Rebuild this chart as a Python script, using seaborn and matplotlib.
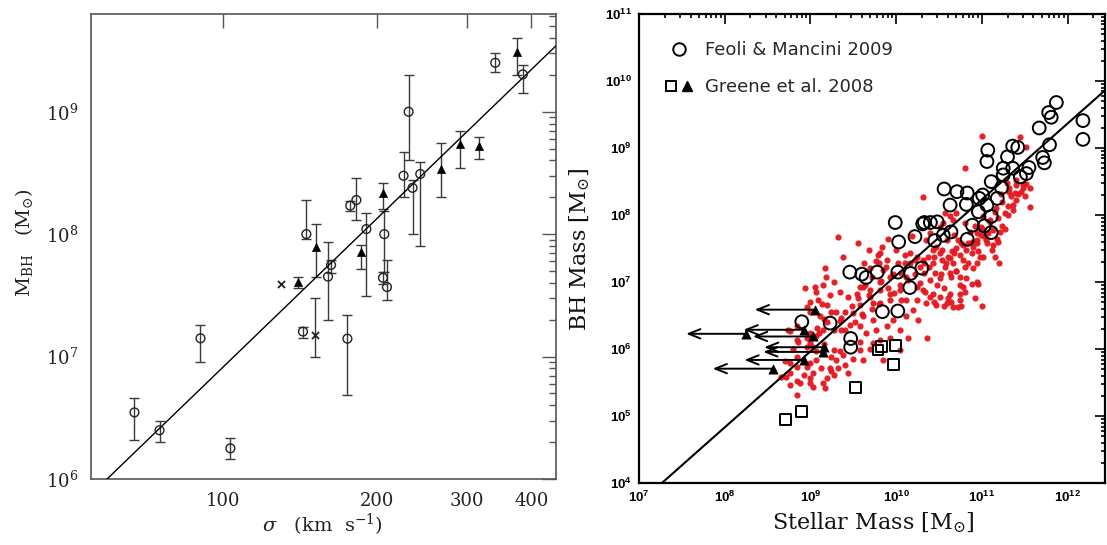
import numpy as np
import matplotlib
matplotlib.use("Agg")
import matplotlib.pyplot as plt
import seaborn as sns
from matplotlib.lines import Line2D
from matplotlib.legend_handler import HandlerTuple
from matplotlib.ticker import LogLocator, NullLocator, NullFormatter

# ---------------- Left panel: M_BH versus velocity dispersion ----------------
circ_sigma = [67.0, 75.0, 90.2, 103.2, 143.1, 145.3, 160.2, 162.4, 174.8, 177.1, 182.0,
              190.4, 205.2, 206.4, 208.9, 225.1, 230.3, 234.4, 242.7, 340.2, 385.2]
circ_mbh = [3.5e6, 2.5e6, 1.41e7, 1.78e6, 1.6e7, 1.0e8, 4.5e7, 5.6e7, 1.4e7, 1.71e8, 1.9e8,
            1.1e8, 4.4e7, 1.0e8, 3.7e7, 3.0e8, 1.0e9, 2.39e8, 3.1e8, 2.51e9, 2.02e9]
circ_lo = [2.1e6, 2.0e6, 9.0e6, 1.47e6, 1.42e7, 9.2e7, 2.0e7, 4.8e7, 4.9e6, 1.56e8, 1.3e8,
           3.1e7, 3.9e7, 4.9e7, 2.9e7, 2.0e8, 4.0e8, 1.0e8, 8.0e7, 2.1e9, 1.41e9]
circ_hi = [4.55e6, 3.0e6, 1.8e7, 2.15e6, 1.73e7, 1.9e8, 8.6e7, 6.2e7, 2.2e7, 1.86e8, 2.9e8,
           1.5e8, 4.95e7, 1.55e8, 6.1e7, 4.7e8, 2.0e9, 2.77e8, 3.9e8, 3.0e9, 2.4e9]

tri_sigma = [139.8, 152.0, 186.1, 205.2, 266.4, 290.5, 315.5, 375.0]
tri_mbh = [4.1e7, 7.9e7, 7.1e7, 2.15e8, 3.38e8, 5.42e8, 5.27e8, 3.05e9]
tri_lo = [3.6e7, 4.5e7, 5.2e7, 1.6e8, 2.0e8, 3.5e8, 4.1e8, 2.0e9]
tri_hi = [4.5e7, 1.2e8, 8.1e7, 2.6e8, 5.6e8, 7.0e8, 6.2e8, 4.0e9]

cross_sigma = [129.9, 150.8]
cross_mbh = [3.9e7, 1.5e7]
cross_lo = [np.nan, 1.0e7]
cross_hi = [np.nan, 3.0e7]

# log M = msig_zero + msig_slope * log(sigma / 200 km/s)
msig_zero = 8.13
msig_slope = 4.03

sigma_ticks = [100, 200, 300, 400]
mbh_ticks_left = [1e6, 1e7, 1e8, 1e9]

# ---------------- Right panel: M_BH versus stellar mass (log10 units) ----------------
fm_log_mstar = [8.90, 9.23, 9.47, 9.47, 9.46, 9.60, 9.65, 9.78, 9.84, 10.02, 10.02, 10.17,
                10.16, 10.30, 9.99, 10.03, 10.22, 10.31, 10.33, 10.40, 10.48, 10.45, 10.55,
                10.64, 10.56, 10.71, 10.83, 10.63, 10.82, 10.83, 10.89, 10.96, 10.97, 11.01,
                11.03, 11.06, 11.11, 11.11, 11.11, 11.18, 11.23, 11.25, 11.25, 11.07, 11.06,
                11.30, 11.36, 11.42, 11.36, 11.45, 11.52, 11.55, 11.71, 11.73, 11.79, 11.67,
                11.78, 11.81, 11.87, 12.18, 12.18]
fm_log_mbh = [6.41, 6.39, 6.16, 6.03, 7.15, 7.12, 7.07, 7.15, 6.56, 6.57, 7.15, 7.13,
              6.92, 7.21, 7.89, 7.60, 7.68, 7.87, 7.89, 7.89, 7.90, 7.62, 7.70,
              7.75, 8.39, 8.35, 8.33, 8.15, 8.16, 7.64, 7.85, 8.05, 8.25, 8.30,
              7.84, 8.15, 7.98, 7.74, 8.50, 8.25, 8.41, 8.60, 8.70, 8.97, 8.80,
              8.87, 9.03, 9.01, 8.70, 8.57, 8.62, 8.71, 8.86, 8.78, 9.05, 9.30,
              9.53, 9.46, 9.68, 9.41, 9.13]

gsq_log_mstar = [8.71, 8.90, 9.53, 9.79, 9.83, 9.99, 9.97]
gsq_log_mbh = [4.95, 5.07, 5.43, 5.99, 6.04, 6.06, 5.77]

glim_log_mstar = [9.05, 8.92, 8.25, 9.03, 9.16, 9.15, 8.93, 8.56]
glim_log_mbh = [6.59, 6.29, 6.23, 6.19, 6.03, 5.96, 5.84, 5.71]
limit_arrow_dex = 0.7

red_log_mstar = [
    11.00, 11.44, 11.52, 10.80, 10.31, 11.56, 11.52, 11.48, 11.39, 11.34,
    11.30, 11.27, 11.36, 11.56, 11.19, 11.21, 11.27, 11.13, 11.19, 11.20,
    11.15, 11.13, 11.05, 10.99, 10.94, 10.90, 10.96, 11.01, 10.94, 10.90,
    10.80, 10.78, 10.74, 10.82, 10.70, 10.65, 10.63, 10.66, 10.70, 10.63,
    10.57, 10.53, 10.51, 10.47, 10.59, 10.63, 10.66, 10.80, 10.68, 10.39,
    10.35, 10.43, 10.37, 10.31, 10.43, 10.45, 10.51, 10.39, 10.33, 10.28,
    10.22, 10.16, 10.10, 10.06, 10.14, 10.24, 10.31, 10.43, 10.51, 10.63,
    10.74, 10.78, 10.74, 10.82, 10.88, 10.94, 9.93, 9.85, 9.77, 9.89,
    9.81, 9.69, 9.61, 9.54, 9.69, 9.81, 9.93, 10.04, 10.12, 10.24,
    10.35, 10.47, 10.59, 10.66, 10.74, 9.81, 11.29, 11.32, 11.40, 11.46,
    11.50, 11.40, 11.23, 11.15, 11.09, 11.01, 10.99, 11.07, 10.94, 10.86,
    10.88, 10.78, 10.72, 10.55, 10.51, 10.57, 10.70,
    9.17, 9.38, 9.27, 9.15, 9.05, 9.07, 9.23, 9.34, 9.44, 9.58,
    9.69, 9.79, 9.96, 9.81, 9.93, 9.73, 9.58, 9.50, 9.61, 9.73,
    9.58, 9.65, 9.77, 9.89, 9.96, 10.04, 10.12, 10.14, 10.04, 9.93,
    9.81, 9.73, 9.58, 9.46, 9.36, 9.36, 9.30, 9.19, 9.09, 8.99,
    8.96, 9.11, 9.19, 9.15, 9.07, 8.96, 8.84, 8.74, 9.03, 9.27,
    9.38, 9.30, 9.23, 9.27, 9.19, 9.15, 9.17, 9.03, 8.99, 8.88,
    8.76, 8.84, 9.03, 8.96, 8.84, 8.76, 8.72, 8.84, 9.07, 9.44,
    9.40, 9.50, 9.61, 9.58, 9.69, 9.85,
    10.36, 10.26, 10.20, 10.72, 10.76, 10.60, 10.44, 10.96, 10.56, 9.32,
    9.18, 8.94, 8.66, 8.76, 8.70, 9.00, 9.24, 9.32, 8.84, 8.76,
    8.86, 8.80, 9.00, 9.10, 9.00, 9.14, 9.56, 9.62, 9.68, 9.80,
    9.84, 9.90, 10.00, 10.18,
    9.82, 9.90, 9.98, 10.06, 10.04, 10.12, 10.22, 10.28, 10.34, 10.40,
    10.48, 10.52, 10.58, 10.64, 10.70, 10.74, 10.80, 10.84, 10.88, 10.94,
    10.98, 11.02, 11.06, 11.12, 11.18, 11.24, 11.30, 11.36, 11.42, 11.48,
    11.40, 11.32, 11.22, 11.16, 11.10, 11.00, 10.92, 10.84, 10.76, 10.68,
    10.60, 10.54, 10.44, 10.38, 10.32, 10.24, 10.16, 10.10, 10.02, 9.96,
    9.88, 9.72, 9.64, 9.68, 9.56, 9.48, 9.40, 9.34, 9.28, 9.40,
    9.52, 9.60, 9.72, 9.80, 9.24, 9.16, 9.08, 9.00, 8.96, 9.06,
    9.16, 9.24, 9.34, 9.12, 9.00, 8.92, 8.84, 10.64, 10.56, 10.92,
    11.00,
]
red_log_mbh = [
    9.18, 9.16, 9.02, 8.71, 8.27, 8.41, 8.47, 8.40, 8.33, 8.28,
    8.13, 8.03, 8.08, 8.12, 7.95, 7.75, 7.80, 7.78, 7.60, 7.29,
    7.38, 7.56, 7.63, 7.70, 7.63, 7.53, 7.46, 7.38, 7.28, 7.21,
    7.23, 7.33, 7.41, 7.48, 7.51, 7.46, 7.36, 7.28, 7.16, 7.13,
    7.23, 7.33, 7.43, 7.53, 7.63, 7.98, 7.93, 7.88, 7.70, 7.73,
    7.63, 7.48, 7.38, 7.33, 7.28, 7.13, 7.06, 7.03, 7.13, 7.23,
    7.33, 7.43, 7.28, 7.13, 7.03, 6.93, 6.88, 6.83, 6.78, 6.83,
    6.83, 6.93, 7.08, 7.06, 6.98, 7.01, 7.08, 7.18, 7.31, 7.33,
    7.43, 7.21, 6.93, 6.83, 6.78, 6.88, 6.83, 6.88, 6.73, 6.73,
    6.69, 6.66, 6.69, 6.63, 6.73, 6.69, 8.48, 8.35, 8.45, 8.35,
    8.28, 8.23, 8.20, 8.05, 7.93, 7.98, 7.83, 7.73, 7.73, 7.75,
    7.60, 7.56, 7.63, 7.88, 7.83, 8.03, 8.03,
    7.21, 7.38, 7.01, 6.96, 6.93, 6.86, 6.81, 6.86, 6.78, 6.93,
    6.88, 7.41, 7.11, 7.01, 6.73, 6.69, 6.66, 6.54, 6.49, 6.44,
    6.34, 6.24, 6.29, 6.34, 6.44, 6.29, 6.49, 6.16, 5.99, 6.16,
    6.14, 6.09, 6.11, 6.36, 6.29, 6.46, 6.56, 6.66, 6.73, 6.71,
    6.63, 6.49, 6.41, 6.29, 6.19, 6.16, 6.14, 6.29, 6.04, 5.99,
    5.91, 5.84, 5.72, 5.62, 5.57, 5.49, 5.42, 5.44, 5.57, 5.49,
    5.47, 5.32, 5.64, 5.74, 5.74, 5.79, 5.59, 5.89, 5.84, 5.64,
    5.77, 5.86, 5.84, 5.99, 6.01, 5.84,
    6.16, 6.44, 6.58, 6.63, 6.65, 6.76, 6.71, 6.98, 6.91, 7.68,
    7.07, 6.91, 5.59, 5.65, 5.83, 5.49, 5.67, 5.72, 6.34, 6.27,
    6.11, 6.01, 6.09, 6.24, 6.55, 6.68, 7.59, 7.28, 7.48, 7.28,
    7.53, 7.64, 7.48, 7.69,
    7.02, 6.91, 6.84, 6.73, 6.96, 7.07, 7.12, 6.99, 6.86, 6.78,
    6.96, 7.12, 7.28, 7.07, 7.17, 6.96, 6.86, 7.28, 7.43, 7.59,
    7.38, 7.69, 7.59, 7.48, 7.64, 7.84, 8.00, 8.15, 8.31, 8.47,
    8.52, 8.41, 8.31, 8.10, 7.90, 7.79, 7.84, 7.59, 7.59, 7.43,
    7.38, 7.48, 7.38, 7.22, 7.28, 7.38, 7.28, 7.40, 7.28, 7.12,
    7.22, 7.07, 6.96, 6.81, 6.76, 6.65, 6.55, 6.42, 6.29, 6.29,
    6.40, 6.52, 6.60, 6.68, 6.55, 6.45, 6.32, 6.24, 6.03, 5.98,
    6.08, 5.88, 5.98, 5.72, 5.80, 5.62, 5.52, 6.71, 6.65, 6.76,
    6.65,
]

# log M_BH = mm_zero + mm_slope * (log M_star - 11)
mm_zero = 8.233
mm_slope = 1.133

mstar_ticks = [1e7, 1e8, 1e9, 1e10, 1e11, 1e12]
mbh_ticks_right = [1e4, 1e5, 1e6, 1e7, 1e8, 1e9, 1e10, 1e11]

legend_labels = ["Feoli & Mancini 2009", "Greene et al. 2008"]

# ---------------- Style ----------------
sns.set_theme(style="white")
plt.rcParams.update({
    "font.family": ["DejaVu Sans"],
    "mathtext.fontset": "custom",
    "mathtext.rm": "Liberation Sans",
    "mathtext.bf": "Liberation Sans:bold",
    "mathtext.it": "Liberation Sans:italic",
})

fig = plt.figure(figsize=(11.07, 5.45), dpi=100)
fig.patch.set_facecolor("white")

# ================= Left panel =================
axL = fig.add_axes([0.0819, 0.1211, 0.4201, 0.8527])
axL.set_xscale("log")
axL.set_yscale("log")


def asym(v, lo, hi):
    v = np.asarray(v, float)
    return [v - np.asarray(lo, float), np.asarray(hi, float) - v]


ebar_kw = dict(fmt="none", ecolor="#3a3a3a", elinewidth=1.0, capsize=3.6, capthick=1.0, zorder=2)
axL.errorbar(circ_sigma, circ_mbh, yerr=asym(circ_mbh, circ_lo, circ_hi), **ebar_kw)
axL.errorbar(tri_sigma, tri_mbh, yerr=asym(tri_mbh, tri_lo, tri_hi), **ebar_kw)
axL.errorbar(cross_sigma, cross_mbh, yerr=asym(cross_mbh, cross_lo, cross_hi), **ebar_kw)

sig_lim = (55.0, 446.7)
sig_line = np.array(sig_lim)
sns.lineplot(x=sig_line, y=10 ** (msig_zero + msig_slope * np.log10(sig_line / 200.0)),
             ax=axL, color="black", lw=1.0, estimator=None, sort=False, zorder=3)

sns.scatterplot(x=circ_sigma, y=circ_mbh, ax=axL, marker="o", s=40,
                facecolors="none", edgecolor="#222222", linewidth=1.0, zorder=4)
sns.scatterplot(x=tri_sigma, y=tri_mbh, ax=axL, marker="^", s=34,
                color="black", edgecolor="black", linewidth=0.5, zorder=4)
sns.scatterplot(x=cross_sigma, y=cross_mbh, ax=axL, marker="x", s=26,
                color="#222222", linewidth=1.3, zorder=4)

axL.set_xlim(*sig_lim)
axL.set_ylim(1e6, 6.25e9)

axL.set_xticks(sigma_ticks, [str(t) for t in sigma_ticks])
axL.xaxis.set_minor_locator(NullLocator())
axL.set_yticks(mbh_ticks_left, [r"$10^{%d}$" % round(np.log10(t)) for t in mbh_ticks_left])
axL.yaxis.set_minor_locator(LogLocator(base=10, subs=np.arange(2, 10), numticks=30))
axL.yaxis.set_minor_formatter(NullFormatter())
axL.tick_params(which="both", direction="in", top=True, right=True, color="#555555",
                width=1.0, labelsize=13, labelcolor="#222222")
axL.tick_params(which="major", length=10, pad=9)
axL.tick_params(which="minor", length=5)
for t in axL.get_xticklabels() + axL.get_yticklabels():
    t.set_fontfamily("DejaVu Serif")
    t.set_math_fontfamily("dejavuserif")
for s in axL.spines.values():
    s.set_color("#555555")
    s.set_linewidth(1.2)

axL.set_xlabel(r"$\sigma\ \ \ (\mathrm{km\ \ s^{-1}})$", fontsize=14, color="#222222",
               fontfamily="DejaVu Serif", math_fontfamily="dejavuserif", va="center")
axL.xaxis.set_label_coords(0.4985, -0.099)
axL.set_ylabel(r"$\mathrm{M_{BH}}\quad(\mathrm{M_{\odot}})$", fontsize=14, color="#222222",
               fontfamily="DejaVu Serif", math_fontfamily="dejavuserif", va="center")
axL.yaxis.set_label_coords(-0.144, 0.508)

# ================= Right panel =================
axR = fig.add_axes([0.5772, 0.1132, 0.4212, 0.8611])
axR.set_xscale("log")
axR.set_yscale("log")

sns.scatterplot(x=10 ** np.array(red_log_mstar), y=10 ** np.array(red_log_mbh), ax=axR,
                color="#e5161d", s=20, linewidth=0, alpha=0.95, zorder=1)

mstar_lim = (1e7, 10 ** 12.44)
ms_line = np.array(mstar_lim)
sns.lineplot(x=ms_line, y=10 ** (mm_zero + mm_slope * (np.log10(ms_line) - 11.0)),
             ax=axR, color="black", lw=1.5, estimator=None, sort=False, zorder=2)

sns.scatterplot(x=10 ** np.array(fm_log_mstar), y=10 ** np.array(fm_log_mbh), ax=axR,
                marker="o", s=85, facecolors="none", edgecolor="black", linewidth=1.4, zorder=3)
sns.scatterplot(x=10 ** np.array(gsq_log_mstar), y=10 ** np.array(gsq_log_mbh), ax=axR,
                marker="s", s=60, facecolors="none", edgecolor="black", linewidth=1.4, zorder=3)

# upper limits on stellar mass
for lx, ly in zip(glim_log_mstar, glim_log_mbh):
    axR.annotate("", xy=(10 ** (lx - limit_arrow_dex), 10 ** ly), xytext=(10 ** lx, 10 ** ly),
                 arrowprops=dict(arrowstyle="->,head_length=0.7,head_width=0.28",
                                 color="black", lw=1.4, shrinkA=0, shrinkB=0), zorder=4)
sns.scatterplot(x=10 ** np.array(glim_log_mstar), y=10 ** np.array(glim_log_mbh), ax=axR,
                marker="^", s=44, color="black", edgecolor="black", linewidth=0.5, zorder=5)

axR.set_xlim(*mstar_lim)
axR.set_ylim(1e4, 1e11)

axR.set_xticks(mstar_ticks, [r"$\mathbf{10^{%d}}$" % round(np.log10(t)) for t in mstar_ticks])
axR.set_yticks(mbh_ticks_right, [r"$\mathbf{10^{%d}}$" % round(np.log10(t)) for t in mbh_ticks_right])
for axis in (axR.xaxis, axR.yaxis):
    axis.set_minor_locator(LogLocator(base=10, subs=np.arange(2, 10), numticks=40))
    axis.set_minor_formatter(NullFormatter())
axR.tick_params(which="both", direction="in", top=True, right=True, color="black",
                width=1.2, labelsize=9.5, labelcolor="black")
axR.tick_params(which="major", length=7)
axR.tick_params(axis="x", which="major", pad=5)
axR.tick_params(axis="y", which="major", pad=5)
axR.tick_params(which="minor", length=3)
for s in axR.spines.values():
    s.set_color("black")
    s.set_linewidth(1.6)

axR.set_xlabel(r"Stellar Mass [M$_{\odot}$]", fontsize=16, color="#111111",
               fontfamily="DejaVu Serif", math_fontfamily="dejavuserif", va="center")
axR.xaxis.set_label_coords(0.5025, -0.0846)
axR.set_ylabel(r"BH Mass [M$_{\odot}$]", fontsize=16, color="#111111",
               fontfamily="DejaVu Serif", math_fontfamily="dejavuserif", va="center")
axR.yaxis.set_label_coords(-0.126, 0.499)

h_circ = Line2D([], [], marker="o", ls="none", mfc="none", mec="black", ms=9, mew=1.4)
h_sq = Line2D([], [], marker="s", ls="none", mfc="none", mec="black", ms=7.5, mew=1.4)
h_tri = Line2D([], [], marker="^", ls="none", mfc="black", mec="black", ms=6.5)
axR.legend([h_circ, (h_sq, h_tri)], legend_labels,
           handler_map={tuple: HandlerTuple(ndivide=None, pad=0)},
           loc="upper left", bbox_to_anchor=(0.051, 0.9425), frameon=False,
           prop={"family": "DejaVu Sans", "size": 13}, handlelength=1.8,
           handletextpad=0.55, labelspacing=1.05, borderpad=0, borderaxespad=0)

fig.savefig("out.png", dpi=100, facecolor="white")
